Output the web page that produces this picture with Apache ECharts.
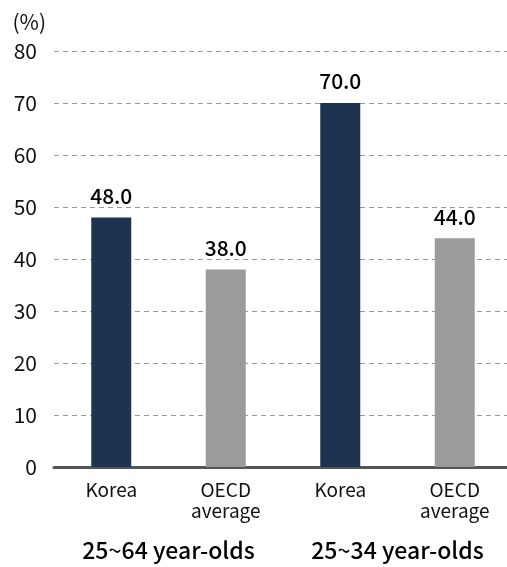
<!DOCTYPE html>
<html>
<head>
<meta charset="utf-8">
<script src="https://cdn.jsdelivr.net/npm/echarts@6/dist/echarts.min.js"></script>
<style>
  html, body { margin: 0; padding: 0; background: #fff; }
  #chart { width: 507px; height: 567px; }
</style>
</head>
<body>
<div id="chart"></div>
<script>
// 막대 카테고리와 값
const categories = ['Korea', 'OECD\naverage', 'Korea', 'OECD\naverage'];
const groups = ['25~64 year-olds', '25~34 year-olds'];
const values = [48.0, 38.0, 70.0, 44.0];
const barColors = ['#1c344f', '#9b9b9b', '#1c344f', '#9b9b9b'];
const yTicks = [0, 10, 20, 30, 40, 50, 60, 70, 80];

const font = '"Noto Sans CJK KR", "Noto Sans", sans-serif';

const chart = echarts.init(document.getElementById('chart'));

const option = {
  backgroundColor: '#fff',
  animation: false,
  grid: { left: 54, width: 458, top: 51, bottom: 100, containLabel: false, outerBoundsMode: 'none' },
  xAxis: [
    {
      type: 'category',
      data: categories,
      axisLine: { show: true, lineStyle: { color: '#555', width: 3 } },
      axisTick: { show: false },
      axisLabel: { color: '#111', fontFamily: font, fontSize: 19, lineHeight: 21, margin: 12 }
    },
    {
      type: 'category',
      data: groups,
      position: 'bottom',
      offset: 72,
      axisLine: { show: false },
      axisTick: { show: false },
      axisLabel: { color: '#000', fontFamily: font, fontSize: 23, fontWeight: 500, margin: 0 }
    }
  ],
  yAxis: {
    type: 'value',
    min: yTicks[0],
    max: yTicks[yTicks.length - 1],
    interval: 10,
    name: '(%)',
    nameGap: 18,
    nameTextStyle: { color: '#111', fontFamily: font, fontSize: 21, align: 'right', padding: [0, 8, 0, 0] },
    axisLine: { show: false },
    axisTick: { show: false },
    axisLabel: { color: '#111', fontFamily: font, fontSize: 21, margin: 17 },
    splitLine: { show: true, lineStyle: { color: '#999', type: [5, 4], width: 1 } }
  },
  series: [{
    type: 'bar',
    xAxisIndex: 0,
    barWidth: 40,
    data: values.map((v, i) => ({ value: v, itemStyle: { color: barColors[i] } })),
    label: {
      show: true,
      position: 'top',
      distance: 11,
      color: '#000',
      fontFamily: font,
      fontSize: 21,
      fontWeight: 500,
      formatter: p => p.value.toFixed(1)
    }
  }]
};

chart.setOption(option);
</script>
</body>
</html>
